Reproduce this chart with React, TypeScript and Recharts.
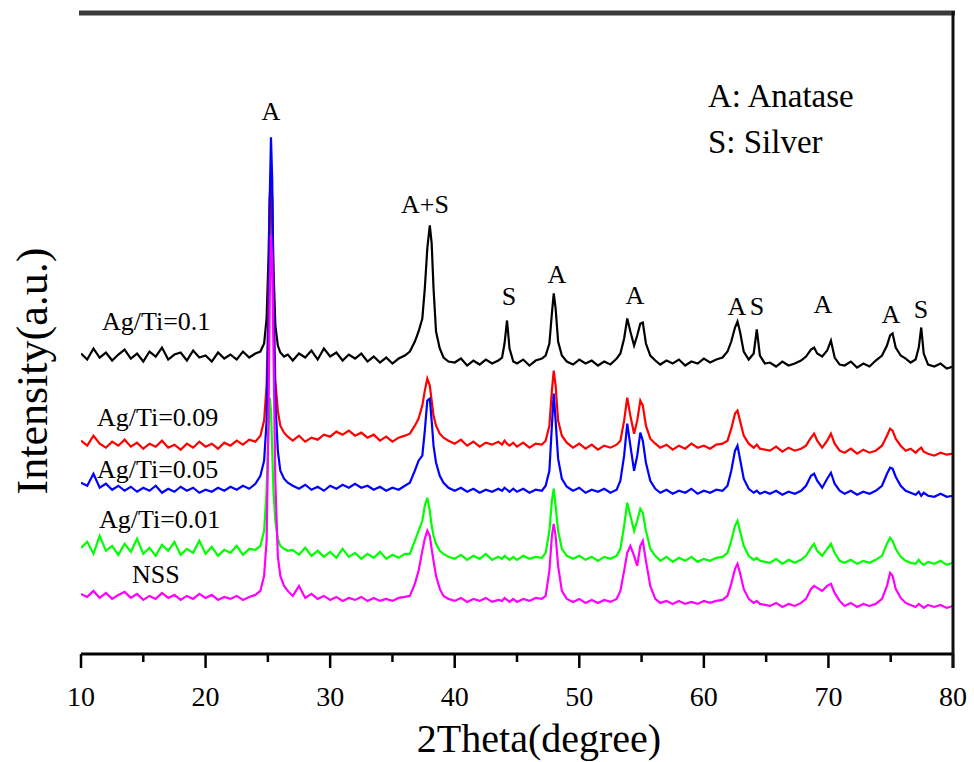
import { LineChart, Line, XAxis, YAxis } from "recharts";

// 2θ sampling (degrees) shared by all patterns
const twoTheta = [
  10, 10.5, 11, 11.5, 12, 12.5, 13, 13.5, 14, 14.5, 15, 15.5, 16, 16.5, 17, 17.5, 18, 18.5, 19, 19.5, 20, 20.5, 21, 21.5, 22, 22.5, 23, 23.5, 24,
  24.4, 24.7, 24.9, 25.05, 25.15, 25.25, 25.35, 25.45, 25.6, 25.8, 26.0, 26.3, 26.6,
  27, 27.5, 28, 28.5, 29, 29.5, 30, 30.5, 31, 31.5, 32, 32.5, 33, 33.5, 34, 34.5, 35, 35.5, 36,
  36.4, 36.8, 37.1, 37.4, 37.6, 37.8, 38.0, 38.15, 38.3, 38.5, 38.8, 39.1, 39.5,
  40, 40.5, 41, 41.5, 42, 42.5, 43, 43.5,
  43.8, 44.0, 44.2, 44.4, 44.7,
  45, 45.5, 46, 46.5, 47,
  47.3, 47.6, 47.8, 47.95, 48.1, 48.3, 48.6, 49.0,
  49.5, 50, 50.5, 51, 51.5, 52, 52.5, 53,
  53.3, 53.6, 53.85, 54.1, 54.4, 54.65, 54.9, 55.1, 55.35, 55.7, 56.1,
  56.5, 57, 57.5, 58, 58.5, 59, 59.5, 60, 60.5, 61, 61.5,
  61.9, 62.2, 62.5, 62.7, 62.9, 63.2, 63.6, 64.0, 64.25, 64.5, 64.9,
  65.3, 65.8, 66.3, 66.8, 67.3, 67.8,
  68.2, 68.6, 68.85, 69.1, 69.5, 69.9, 70.2, 70.5, 70.9,
  71.3, 71.8, 72.3, 72.8, 73.3, 73.8,
  74.3, 74.7, 74.95, 75.15, 75.4, 75.8, 76.2, 76.6,
  77.0, 77.25, 77.45, 77.65, 78.0,
  78.5, 79, 79.5, 80,
];

// stacked intensities (a.u.), already offset
const agTi010 = [
  300, 294, 305, 296, 301, 293, 299, 304, 295, 300, 292, 302, 297, 306, 294, 299, 301, 293, 303, 296, 298, 292, 301, 295, 299, 294, 302, 296, 300,
  302, 310, 335, 395, 455, 480, 455, 385, 328, 308, 301, 297, 299,
  293, 300, 296, 303, 294, 305, 297, 301, 293, 299, 295, 300, 292, 297, 291, 296, 290, 295, 298,
  302, 312, 322, 335, 365, 405, 428, 410, 365, 322, 305, 296, 292,
  291, 295, 288, 293, 289, 294, 290, 293,
  296, 310, 333, 305, 292,
  290, 294, 288, 293, 295,
  298, 310, 340, 360, 345, 312, 298, 292,
  289, 294, 290, 293, 288, 292, 289, 295,
  300, 315, 335, 322, 308, 318, 330, 331, 310, 298, 293,
  289, 293, 290, 294, 288, 292, 290, 295, 291, 294, 296,
  302, 312, 326, 332, 322, 302, 294, 300, 324, 298, 290,
  291, 287, 292, 288, 290, 293,
  297, 304, 306, 300, 297, 303, 313, 296, 289,
  288, 292, 286, 290, 287, 293,
  298, 308, 318, 320, 306, 298, 295, 291,
  294, 306, 326, 300, 289,
  287, 290, 285, 287,
];

const agTi009 = [
  213, 208, 218, 210, 206, 212, 208, 214, 207, 211, 205, 210, 207, 213, 206, 209, 204, 210, 206, 212, 207, 210, 205, 211, 208, 213, 209, 214, 212,
  218, 233, 268, 353, 443, 481, 438, 353, 273, 243, 228, 221, 217,
  213, 218, 212, 216, 214, 219, 217, 222, 219, 223, 218, 221, 216, 219, 213, 217, 212, 216, 218,
  220, 228, 235, 248, 263, 275, 268, 253, 238, 228, 220, 216, 213,
  210, 214, 208, 212, 207, 211, 209, 212,
  209, 213, 210, 208, 211,
  207, 211, 206, 210, 209,
  213, 228, 263, 283, 268, 233, 218, 211,
  206, 210, 205, 209, 204, 208, 206, 209,
  213, 233, 256, 238, 220, 233, 253, 248, 228, 215, 210,
  206, 209, 204, 208, 205, 210, 206, 208, 205, 209, 210,
  213, 225, 240, 243, 233, 218, 210, 206, 209, 205, 204,
  203, 207, 202, 206, 203, 205,
  208, 216, 220, 213, 206, 213, 220, 210, 203,
  201, 205, 200, 204, 201, 203,
  208, 218, 225, 223, 215, 208, 203, 205,
  201, 204, 206, 202, 200,
  198, 201, 199, 200,
];

const agTi005 = [
  171, 168, 180, 166, 170, 164, 168, 163, 167, 162, 166, 163, 168, 161, 165, 162, 167, 163, 166, 161, 164, 162, 166, 163, 167, 164, 168, 165, 170,
  178, 193, 233, 333, 453, 516, 473, 353, 253, 203, 183, 175, 171,
  168, 165, 169, 164, 167, 163, 168, 165, 169, 166, 170, 166, 168, 164, 167, 163, 166, 164, 168,
  171, 183, 193, 198, 223, 253, 255, 233, 208, 191, 178, 171, 166,
  163, 166, 162, 165, 161, 164, 162, 165,
  163, 166, 164, 162, 165,
  162, 165, 161, 164, 163,
  168, 183, 228, 260, 233, 195, 175, 167,
  163, 166, 161, 164, 162, 165, 161, 164,
  173, 198, 230, 208, 183, 198, 221, 213, 191, 173, 165,
  161, 164, 160, 163, 161, 165, 160, 163, 161, 164, 163,
  168, 183, 203, 208, 195, 175, 165, 161, 163, 160, 162,
  160, 163, 159, 162, 160, 163,
  168, 178, 180, 173, 166, 175, 181, 170, 163,
  160, 163, 159, 162, 160, 163,
  168, 180, 186, 185, 177, 168, 163, 161,
  159, 162, 158, 161, 158,
  157, 160, 157, 158,
];

const agTi001 = [
  106, 112, 100, 118, 103, 108, 99, 110, 102, 115, 100, 106, 98, 109, 103, 112, 99, 105, 101, 113, 100, 107, 98, 104, 101, 108, 99, 105, 104,
  108, 123, 163, 223, 256, 243, 203, 163, 133, 115, 108, 105, 103,
  104, 99, 106, 98, 103, 97, 102, 96, 105, 97, 101, 95, 100, 96, 102, 95, 99, 96, 100,
  100, 113, 123, 133, 148, 156, 143, 128, 118, 110, 103, 100, 97,
  95, 99, 94, 98, 95, 100, 94, 97,
  95, 98, 96, 94, 97,
  94, 98, 95, 97, 96,
  101, 123, 153, 165, 148, 123, 105, 98,
  95, 98, 94, 97, 93, 97, 95, 98,
  105, 128, 151, 138, 123, 133, 145, 141, 123, 105, 98,
  93, 97, 92, 96, 93, 97, 92, 95, 93, 96, 97,
  101, 113, 128, 133, 123, 108, 98, 94, 96, 93, 92,
  91, 95, 90, 94, 91, 94,
  98, 106, 110, 103, 98, 105, 110, 101, 93,
  91, 94, 90, 93, 91, 94,
  98, 110, 116, 113, 105, 97, 93, 91,
  90, 94, 91, 89, 92,
  90, 93, 89, 91,
];

const nss = [
  60, 57, 63, 56, 61, 55, 59, 62, 56, 60, 54, 58, 55, 61, 56, 59, 54, 58, 55, 60, 56, 59, 54, 57, 55, 58, 54, 57, 59,
  63, 78, 113, 233, 353, 418, 393, 303, 173, 98, 78, 68, 63,
  58, 68, 56, 60, 55, 58, 54, 57, 53, 56, 54, 57, 53, 56, 53, 55, 53, 56, 57,
  58, 70, 83, 103, 115, 123, 118, 105, 93, 78, 65, 58, 55,
  53, 56, 52, 55, 53, 56, 52, 54,
  53, 56, 54, 52, 55,
  52, 55, 53, 56, 55,
  58, 83, 118, 130, 118, 88, 63, 55,
  52, 55, 51, 54, 51, 54, 52, 55,
  63, 83, 101, 108, 98, 88, 108, 113, 93, 68, 55,
  51, 53, 50, 53, 50, 52, 50, 53, 51, 53, 54,
  58, 70, 85, 90, 81, 65, 55, 51, 53, 50, 49,
  48, 51, 47, 50, 48, 51,
  55, 65, 68, 66, 63, 68, 70, 61, 53,
  48, 51, 47, 50, 48, 50,
  55, 68, 81, 78, 65, 56, 51, 49,
  47, 50, 48, 46, 49,
  47, 49, 46, 48,
];

const xTicks = [10, 15, 20, 25, 30, 35, 40, 45, 50, 55, 60, 65, 70, 75, 80];

const data = twoTheta.map((t, i) => ({
  t,
  s010: agTi010[i],
  s009: agTi009[i],
  s005: agTi005[i],
  s001: agTi001[i],
  nss: nss[i],
}));

const FONT = "Liberation Serif, Times New Roman, DejaVu Serif, serif";
const serif = { fontFamily: FONT };

function XTick(props: any) {
  const { x, y, payload } = props;
  const major = payload.value % 10 === 0;
  return (
    <g>
      <line x1={x} x2={x} y1={y} y2={y + (major ? 14 : 8)} stroke="#000" strokeWidth={2.5} />
      {major && (
        <text x={x} y={y + 52} textAnchor="middle" style={serif} fontSize={28} fill="#000">
          {payload.value}
        </text>
      )}
    </g>
  );
}

const seriesLabels = [
  { text: "Ag/Ti=0.1", x: 102, y: 330 },
  { text: "Ag/Ti=0.09", x: 97, y: 426 },
  { text: "Ag/Ti=0.05", x: 97, y: 478 },
  { text: "Ag/Ti=0.01", x: 99, y: 528 },
  { text: "NSS", x: 132, y: 583 },
];

const peakLabels = [
  { text: "A", x: 271, y: 120 },
  { text: "A+S", x: 425, y: 213 },
  { text: "S", x: 509, y: 305 },
  { text: "A", x: 557, y: 283 },
  { text: "A", x: 635, y: 304 },
  { text: "A", x: 737, y: 315 },
  { text: "S", x: 757, y: 315 },
  { text: "A", x: 823, y: 313 },
  { text: "A", x: 891, y: 323 },
  { text: "S", x: 921, y: 318 },
];

export default function App() {
  return (
    <div style={{ position: "absolute", left: 0, top: 0, width: 974, height: 762, background: "#fff" }}>
      <LineChart width={974} height={762} data={data} margin={{ top: 15, right: 21, left: 81, bottom: 48 }}>
        <XAxis
          dataKey="t"
          type="number"
          domain={[10, 80]}
          ticks={xTicks}
          interval={0}
          height={60}
          tickLine={false}
          tickSize={0}
          tickMargin={0}
          tick={<XTick />}
          axisLine={{ stroke: "#000", strokeWidth: 3 }}
          allowDataOverflow
        />
        <YAxis domain={[0, 638]} width={0} tick={false} tickLine={false} axisLine={{ stroke: "#000", strokeWidth: 3 }} />
        <Line dataKey="s010" stroke="#000000" strokeWidth={2.2} dot={false} isAnimationActive={false} />
        <Line dataKey="s009" stroke="#ff0000" strokeWidth={2.2} dot={false} isAnimationActive={false} />
        <Line dataKey="s005" stroke="#0000ff" strokeWidth={2.2} dot={false} isAnimationActive={false} />
        <Line dataKey="s001" stroke="#00ff00" strokeWidth={2.2} dot={false} isAnimationActive={false} />
        <Line dataKey="nss" stroke="#ff00ff" strokeWidth={2.2} dot={false} isAnimationActive={false} />
      </LineChart>
      <svg width={974} height={762} style={{ position: "absolute", left: 0, top: 0, pointerEvents: "none" }}>
        {/* frame: top and right edges */}
        <line x1={79} x2={955} y1={13} y2={13} stroke="#3a3a3a" strokeWidth={5} />
        <line x1={953} x2={953} y1={11} y2={668} stroke="#111" strokeWidth={3} />
        {seriesLabels.map((s) => (
          <text key={s.text} x={s.x} y={s.y} style={serif} fontSize={26} fill="#000">
            {s.text}
          </text>
        ))}
        {peakLabels.map((p, i) => (
          <text key={i} x={p.x} y={p.y} style={serif} fontSize={26} fill="#000" textAnchor="middle">
            {p.text}
          </text>
        ))}
        <text x={708} y={107} style={serif} fontSize={33} fill="#000">A: Anatase</text>
        <text x={708} y={153} style={serif} fontSize={33} fill="#000">S: Silver</text>
        <text x={539} y={752} style={serif} fontSize={40} fill="#000" textAnchor="middle">2Theta(degree)</text>
        <text transform="translate(47,371) rotate(-90)" style={serif} fontSize={44} fill="#000" textAnchor="middle">
          Intensity(a.u.)
        </text>
      </svg>
    </div>
  );
}
